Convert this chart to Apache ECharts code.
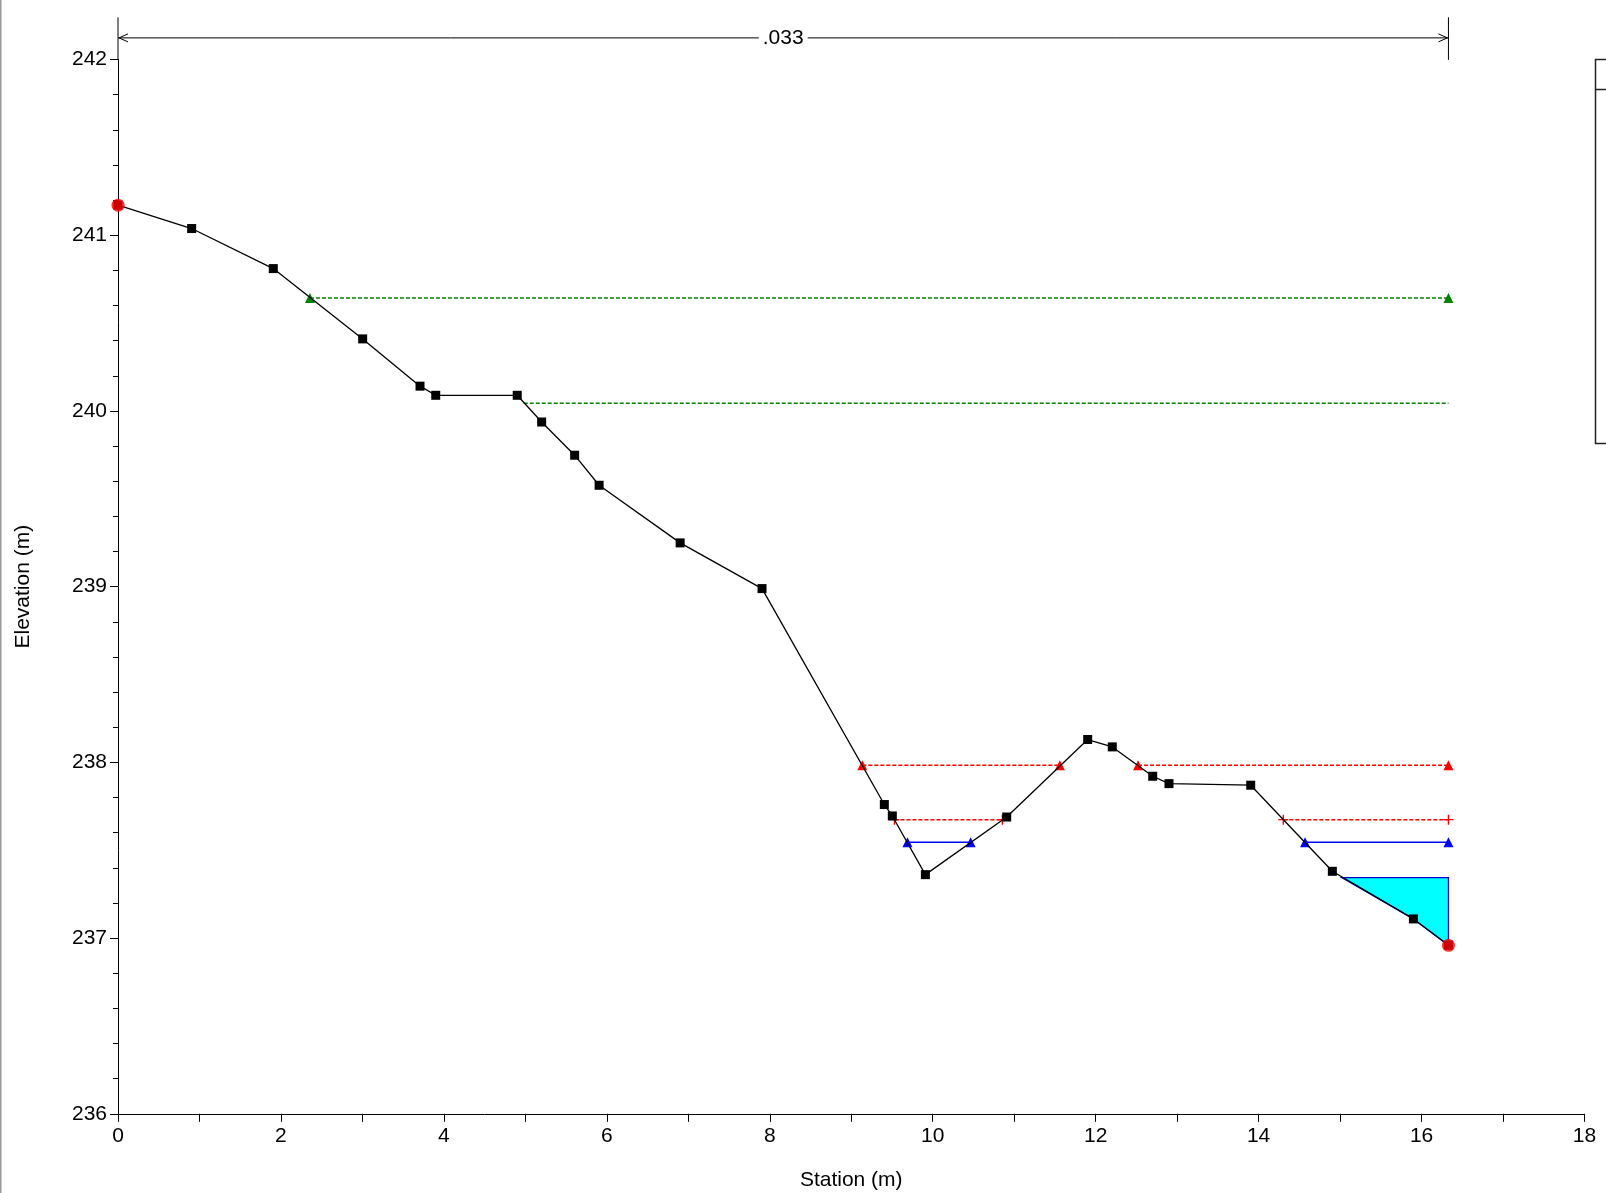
<!DOCTYPE html>
<html><head><meta charset="utf-8">
<script src="https://cdn.jsdelivr.net/npm/echarts@6/dist/echarts.min.js"></script>
<style>html,body{margin:0;padding:0;background:#fff}#c{width:1606px;height:1193px}</style>
</head><body><div id="c"></div>
<script>
// Ground profile
const stations   = [0, 0.904, 1.906, 3.003, 3.707, 3.90, 4.90, 5.20, 5.605, 5.905, 6.90, 7.905, 9.406, 9.504, 9.91, 10.908, 11.902, 12.204, 12.70, 12.90, 13.903, 14.905, 15.90, 16.33];
const elevations = [241.171, 241.038, 240.81, 240.41, 240.141, 240.089, 240.089, 239.937, 239.748, 239.577, 239.249, 238.989, 237.76, 237.695, 237.361, 237.689, 238.13, 238.088, 237.921, 237.879, 237.87, 237.38, 237.109, 236.959];

// Level lines: elevation + segments [start, end]
const greenHighLevel = 240.643;
const greenHighSegs  = [[2.356, 16.33]];
const greenLowLevel  = 240.044;
const greenLowSegs   = [[4.98, 16.33]];
const redHighLevel   = 237.983;
const redHighSegs    = [[9.136, 11.56], [12.52, 16.33]];
const redPlusLevel   = 237.674;
const redPlusSegs    = [[9.53, 10.855], [14.303, 16.33]];
const blueLevel      = 237.545;
const blueSegs       = [[9.69, 10.465], [14.57, 16.33]];
const waterLevel     = 237.344;
const waterStart     = 15.02;

// Top dimension annotation
const dimLabel = '.033';
const dimElev  = 242.123;
const dimStart = 0;
const dimEnd   = 16.33;
const axisTopElev = 242.24;

// Tick settings
const xMin = 0, xMax = 18, xInterval = 1;
const yMin = 236, yMax = 242, yInterval = 1;

const FONT = "'Liberation Sans', Arial, sans-serif";
const PLUS = 'path://M4.3,0H5.7V4.3H10V5.7H5.7V10H4.3V5.7H0V4.3H4.3Z';

const ground = stations.map((s, i) => [s, elevations[i]]);
const endpoints = [ground[0], ground[ground.length - 1]];

// water polygon: surface line then ground back
const waterPoly = [[waterStart, waterLevel], [stations[stations.length - 1], waterLevel]];
for (let i = stations.length - 1; i >= 0; i--) {
  if (stations[i] > waterStart) waterPoly.push([stations[i], elevations[i]]);
}

function levelSeries(level, segs, color, dashed, symbol, symbolSize) {
  return segs.map(seg => ({
    type: 'line',
    data: [[seg[0], level], [seg[1], level]],
    symbol: symbol || 'none',
    symbolSize: symbolSize || 10,
    showSymbol: !!symbol,
    itemStyle: { color: color },
    lineStyle: { color: color, width: 1.5, type: dashed ? [4, 2] : 'solid' },
    silent: true, animation: false, z: 3
  }));
}

const series = [
  {
    type: 'custom', coordinateSystem: 'cartesian2d', data: waterPoly, z: 2, animation: false, silent: true,
    renderItem: function (params, api) {
      if (params.dataIndex !== 0) return null;
      const pts = waterPoly.map(p => api.coord(p));
      return { type: 'polygon', shape: { points: pts }, style: { fill: '#00ffff', stroke: '#0000c8', lineWidth: 1.2 } };
    }
  },
  ...levelSeries(greenHighLevel, greenHighSegs, '#008000', true, 'triangle', 10),
  ...levelSeries(greenLowLevel, greenLowSegs, '#008000', true, null),
  ...levelSeries(redHighLevel, redHighSegs, '#ff0000', true, 'triangle', 10),
  ...levelSeries(redPlusLevel, redPlusSegs, '#ff0000', true, PLUS, 10),
  ...levelSeries(blueLevel, blueSegs, '#0000ff', false, 'triangle', 10),
  {
    type: 'line', data: ground, symbol: 'rect', symbolSize: 9,
    itemStyle: { color: '#000' }, lineStyle: { color: '#000', width: 1.3 },
    z: 5, animation: false, silent: true
  },
  {
    type: 'scatter', data: endpoints, symbol: 'circle', symbolSize: 13,
    itemStyle: { color: '#ff0000' }, z: 6, animation: false, silent: true
  }
];

const chart = echarts.init(document.getElementById('c'), null, { renderer: 'canvas' });
chart.setOption({
  backgroundColor: '#ffffff',
  animation: false,
  textStyle: { fontFamily: FONT },
  grid: { left: 118, top: 59.5, right: 21.5, bottom: 79.2, containLabel: false, outerBoundsMode: 'none' },
  xAxis: {
    type: 'value', min: xMin, max: xMax, interval: xInterval,
    name: 'Station (m)', nameLocation: 'middle', nameGap: 56,
    nameTextStyle: { fontSize: 21, color: '#000', fontFamily: FONT },
    axisLine: { lineStyle: { color: '#000', width: 1 } },
    axisTick: { show: true, length: 8, inside: false, lineStyle: { color: '#000' } },
    axisLabel: { fontSize: 21, color: '#000', margin: 12, fontFamily: FONT,
      formatter: v => (v % 2 === 0 ? String(v) : '') },
    splitLine: { show: false }
  },
  yAxis: {
    type: 'value', min: yMin, max: yMax, interval: yInterval,
    name: 'Elevation (m)', nameLocation: 'middle', nameGap: 84,
    nameTextStyle: { fontSize: 21, color: '#000', fontFamily: FONT },
    axisLine: { show: true, lineStyle: { color: '#000', width: 1 } },
    axisTick: { show: true, length: 8, lineStyle: { color: '#000' } },
    minorTick: { show: true, splitNumber: 5, length: 5, lineStyle: { color: '#000' } },
    axisLabel: { fontSize: 21, color: '#000', margin: 11, fontFamily: FONT },
    splitLine: { show: false }
  },
  series: series
});

// Annotations positioned through the chart's own coordinate conversion
const P = (x, y) => chart.convertToPixel({ gridIndex: 0 }, [x, y]);
const a0 = P(dimStart, dimElev), a1 = P(dimEnd, dimElev);
const ax0 = P(0, yMax), ax1 = P(0, axisTopElev);
const v0 = P(dimEnd, axisTopElev), v1 = P(dimEnd, 241.998);
const mid = P((dimStart + dimEnd) / 2, dimElev);
const gridRight = P(xMax, yMax);

chart.setOption({
  graphic: [
    { type: 'rect', shape: { x: 0, y: 0, width: 1.5, height: 1193 }, style: { fill: '#9a9a9a' }, silent: true },
    { type: 'line', shape: { x1: ax0[0], y1: ax0[1], x2: ax1[0], y2: ax1[1] }, style: { stroke: '#000', lineWidth: 1 }, silent: true },
    { type: 'line', shape: { x1: a0[0], y1: a0[1], x2: a1[0], y2: a1[1] }, style: { stroke: '#000', lineWidth: 1 }, silent: true },
    { type: 'polyline', shape: { points: [[a0[0] + 10, a0[1] - 4], [a0[0] + 1, a0[1]], [a0[0] + 10, a0[1] + 4]] }, style: { stroke: '#000', lineWidth: 1, fill: null }, silent: true },
    { type: 'polyline', shape: { points: [[a1[0] - 10, a1[1] - 4], [a1[0] - 1, a1[1]], [a1[0] - 10, a1[1] + 4]] }, style: { stroke: '#000', lineWidth: 1, fill: null }, silent: true },
    { type: 'line', shape: { x1: v0[0], y1: v0[1], x2: v1[0], y2: v1[1] }, style: { stroke: '#000', lineWidth: 1 }, silent: true },
    { type: 'text', x: mid[0], y: mid[1], style: { text: dimLabel, font: "21px 'Liberation Sans', Arial, sans-serif", fill: '#000', align: 'center', verticalAlign: 'middle', backgroundColor: '#fff', padding: [0, 4] }, z: 10, silent: true },
    { type: 'rect', shape: { x: gridRight[0] + 11, y: gridRight[1], width: 40, height: 384 }, style: { fill: '#fff', stroke: '#222', lineWidth: 1.5 }, silent: true },
    { type: 'line', shape: { x1: gridRight[0] + 11, y1: gridRight[1] + 30, x2: 1606, y2: gridRight[1] + 30 }, style: { stroke: '#222', lineWidth: 1.5 }, silent: true }
  ]
});
</script>
</body></html>
